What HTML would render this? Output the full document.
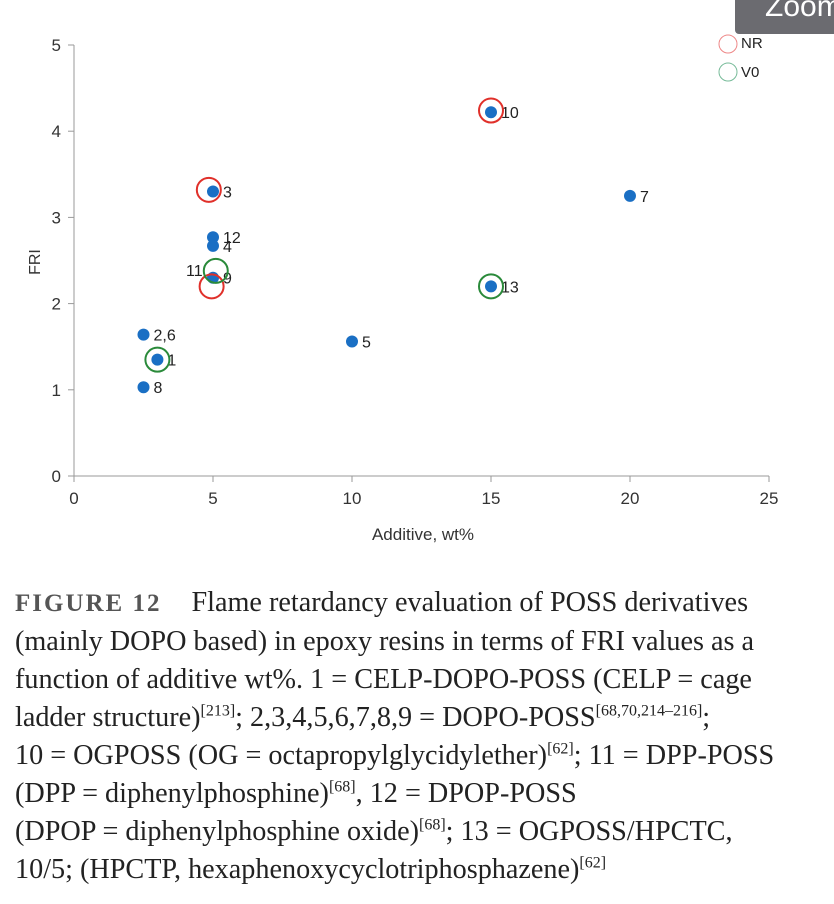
<!DOCTYPE html>
<html><head><meta charset="utf-8"><style>
body{margin:0;width:834px;height:904px;background:#fff;overflow:hidden;position:relative;font-family:"Liberation Sans",sans-serif}
#cap{position:absolute;left:15px;top:584px;width:820px;font-family:"Liberation Serif",serif;font-size:28.2px;line-height:38px;color:#222;white-space:nowrap}
#cap b{font-weight:bold;letter-spacing:2px;color:#555;margin-right:30px;font-size:25px}
sup{font-size:16px;line-height:0}
#zoom{position:absolute;left:735px;top:-6px;width:110px;height:40px;background:#6b6b70;border-radius:4px;color:#fff;font-size:30px;line-height:26px;padding-left:30px;overflow:hidden}
</style></head><body>
<div id="zoom">Zoom</div>
<svg id="chart" width="834" height="570" style="position:absolute;left:0;top:0"></svg>
<div id="cap"><b>FIGURE 12</b>Flame retardancy evaluation of POSS derivatives<br>(mainly DOPO based) in epoxy resins in terms of FRI values as a<br>function of additive wt%. 1 = CELP-DOPO-POSS (CELP = cage<br>ladder structure)<sup>[213]</sup>; 2,3,4,5,6,7,8,9 = DOPO-POSS<sup>[68,70,214–216]</sup>;<br>10 = OGPOSS (OG = octapropylglycidylether)<sup>[62]</sup>; 11 = DPP-POSS<br>(DPP = diphenylphosphine)<sup>[68]</sup>, 12 = DPOP-POSS<br>(DPOP = diphenylphosphine oxide)<sup>[68]</sup>; 13 = OGPOSS/HPCTC,<br>10/5; (HPCTP, hexaphenoxycyclotriphosphazene)<sup>[62]</sup></div>
<script>
const ptLabels=["10","7","3","12","4","9","13","5","2,6","1","8"];
const ptX=[15,20,5,5,5,5,15,10,2.5,3,2.5];
const ptY=[4.22,3.25,3.3,2.77,2.67,2.3,2.2,1.56,1.64,1.35,1.03];
const nrX=[15,4.85,4.95];
const nrY=[4.24,3.32,2.2];
const v0X=[5.1,3,15];
const v0Y=[2.38,1.35,2.2];
const xTicks=[0,5,10,15,20,25];
const yTicks=[0,1,2,3,4,5];
const NS="http://www.w3.org/2000/svg";
const svg=document.getElementById('chart');
const X=v=>74+v*27.8, Y=v=>476-v*86.2;
function mk(t,a,txt){const e=document.createElementNS(NS,t);for(const k in a)e.setAttribute(k,a[k]);if(txt!=null)e.textContent=txt;svg.appendChild(e);return e;}
let e;
e=mk('line',{x1:74,y1:45,x2:74,y2:476,stroke:'#999'});


e=mk('line',{x1:74,y1:476,x2:769,y2:476,stroke:'#999'});


xTicks.forEach(t=>{mk('line',{x1:X(t),y1:476,x2:X(t),y2:482,stroke:'#999'});
e=mk('text',{x:X(t),y:504,'text-anchor':'middle','font-size':17,fill:'#333'},t);

});
yTicks.forEach(t=>{mk('line',{x1:68,y1:Y(t),x2:74,y2:Y(t),stroke:'#999'});
e=mk('text',{x:61,y:Y(t)+6,'text-anchor':'end','font-size':17,fill:'#333'},t);

});
e=mk('text',{x:423,y:540,'text-anchor':'middle','font-size':17,fill:'#333'},'Additive, wt%');


e=mk('text',{x:40,y:262,'text-anchor':'middle','font-size':16,fill:'#333',transform:'rotate(-90 40 262)'},'FRI');


ptX.forEach((v,i)=>{e=mk('circle',{cx:X(v),cy:Y(ptY[i]),r:6,fill:'#1a6fc4'});


e=mk('text',{x:X(v)+10,y:Y(ptY[i])+6,'font-size':16,fill:'#222'},ptLabels[i]);

});
e=mk('text',{x:186,y:276,'font-size':16,fill:'#222'},'11');


nrX.forEach((v,i)=>{e=mk('circle',{cx:X(v),cy:Y(nrY[i]),r:12,fill:'none',stroke:'#e0302a','stroke-width':2});

});
v0X.forEach((v,i)=>{e=mk('circle',{cx:X(v),cy:Y(v0Y[i]),r:12,fill:'none',stroke:'#2a8a3a','stroke-width':2});

});
e=mk('circle',{cx:728,cy:44,r:9,fill:'none',stroke:'#e88'});


e=mk('text',{x:741,y:48,'font-size':15,fill:'#222'},'NR');


e=mk('circle',{cx:728,cy:72,r:9,fill:'none',stroke:'#7b9'});


e=mk('text',{x:741,y:77,'font-size':15,fill:'#222'},'V0');


</script>
</body></html>
